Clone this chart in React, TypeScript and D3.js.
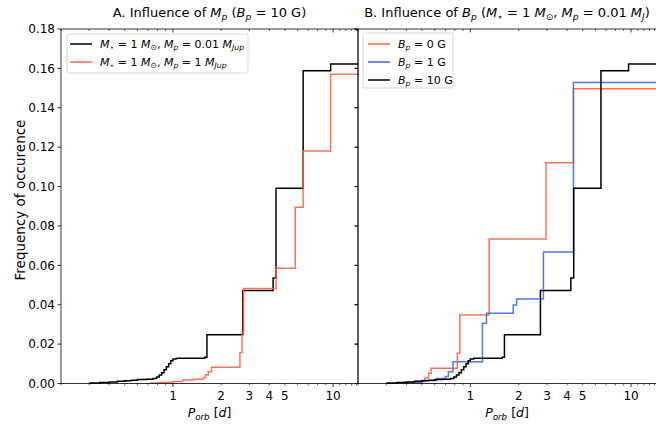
import React from "react";
import * as d3 from "d3";

type Pt = [number, number];

// Panel A / B black: M* = 1 Msun, Mp = 0.01 MJup, Bp = 10 G
const seriesMp001Bp10: Pt[] = [
  [0.3, 0.0002], [0.35, 0.0005], [0.4, 0.0008], [0.45, 0.0011], [0.5, 0.0014],
  [0.55, 0.0017], [0.6, 0.002], [0.68, 0.0022], [0.75, 0.0025], [0.79, 0.0033],
  [0.82, 0.0043], [0.85, 0.0055], [0.88, 0.007], [0.91, 0.0085], [0.94, 0.01],
  [0.97, 0.0115], [1.0, 0.0124], [1.05, 0.0128], [1.58, 0.0133], [1.63, 0.0248],
  [2.73, 0.0472], [4.22, 0.0536], [4.4, 0.0992], [6.5, 0.1588], [9.65, 0.1622],
];
// Panel A red: Mp = 1 MJup
const seriesMp1: Pt[] = [
  [0.72, 0.0002], [0.85, 0.0005], [1.0, 0.001], [1.15, 0.0018], [1.35, 0.0022],
  [1.55, 0.003], [1.6, 0.0045], [1.66, 0.006], [1.74, 0.0082], [2.62, 0.0158],
  [2.7, 0.026], [2.76, 0.0483], [4.4, 0.0585], [5.8, 0.0895], [6.5, 0.118], [9.65, 0.157],
];
// Panel B red: Bp = 0 G
const seriesBp0: Pt[] = [
  [0.4, 0.0005], [0.45, 0.001], [0.52, 0.0028], [0.55, 0.0052], [0.57, 0.0077],
  [0.83, 0.0153], [0.86, 0.0348], [1.31, 0.0734], [2.96, 0.1121], [4.38, 0.1496],
];
// Panel B blue: Bp = 1 G
const seriesBp1: Pt[] = [
  [0.38, 0.0005], [0.5, 0.0015], [0.62, 0.0025], [0.7, 0.0035], [0.73, 0.006],
  [0.78, 0.0111], [1.19, 0.0306], [1.26, 0.0357], [1.85, 0.0399], [1.94, 0.0429],
  [2.85, 0.0668], [4.38, 0.1528],
];

const xDomain: [number, number] = [0.2, 14.3];
const yTicks = [0, 0.02, 0.04, 0.06, 0.08, 0.1, 0.12, 0.14, 0.16, 0.18];
const xLabeled = [1, 2, 3, 4, 5, 10];
const xMajor = [1, 10];
const xMinor = [0.2, 0.3, 0.4, 0.5, 0.6, 0.7, 0.8, 0.9, 2, 3, 4, 5, 6, 7, 8, 9, 11, 12, 13, 14];

const RED = "#ff6347";
const BLUE = "#4169e1";
const BLACK = "#000000";
const FONT = "DejaVu Sans, sans-serif";

type Seg = { t: string; i?: boolean; s?: boolean };

function Rich(props: { segs: Seg[]; x: number; y: number; size: number; anchor?: string }) {
  const { segs, x, y, size, anchor } = props;
  let cur = 0;
  const shift = size * 0.22;
  return (
    <text x={x} y={y} fontSize={size} fontFamily={FONT} textAnchor={anchor || "start"} fill="#000">
      {segs.map((sg, k) => {
        const target = sg.s ? shift : 0;
        const dy = target - cur;
        cur = target;
        return (
          <tspan key={k} dy={dy} fontStyle={sg.i ? "italic" : "normal"} fontSize={sg.s ? size * 0.7 : size}>
            {sg.t}
          </tspan>
        );
      })}
    </text>
  );
}

const TOP = 29;
const BOTTOM = 383.5;

function Panel(props: {
  x0: number; x1: number; series: { data: Pt[]; color: string; op: number }[];
  showYLabels: boolean; rightSpine: boolean;
}) {
  const { x0, x1, series, showYLabels, rightSpine } = props;
  const x = d3.scaleLog().domain(xDomain).range([x0, x1]);
  const y = d3.scaleLinear().domain([0, 0.18]).range([BOTTOM, TOP]);
  const line = d3.line<Pt>().x((d) => x(d[0])).y((d) => y(d[1])).curve(d3.curveStepAfter);
  const ext = (d: Pt[]): Pt[] => [...d, [xDomain[1], d[d.length - 1][1]]];
  return (
    <g>
      <defs>
        <clipPath id={`clip${x0}`}>
          <rect x={x0} y={TOP - 2} width={x1 - x0} height={BOTTOM - TOP + 4} />
        </clipPath>
      </defs>
      <g clipPath={`url(#clip${x0})`}>
        {series.map((s, k) => (
          <path key={k} d={line(ext(s.data)) || ""} fill="none" stroke={s.color} strokeOpacity={s.op} strokeWidth={1.5} />
        ))}
      </g>
      <line x1={x0} x2={x0} y1={TOP} y2={BOTTOM} stroke="#000" strokeWidth={0.8} />
      {rightSpine && <line x1={x1} x2={x1} y1={TOP} y2={BOTTOM} stroke="#000" strokeWidth={0.8} />}
      <line x1={x0} x2={x1} y1={TOP} y2={TOP} stroke="#000" strokeWidth={0.8} />
      <line x1={x0} x2={x1} y1={BOTTOM} y2={BOTTOM} stroke="#000" strokeWidth={0.8} />
      {yTicks.map((t) => (
        <g key={t}>
          <line x1={x0 - 3.5} x2={x0} y1={y(t)} y2={y(t)} stroke="#000" strokeWidth={0.8} />
          {rightSpine && <line x1={x1 - 3.5} x2={x1} y1={y(t)} y2={y(t)} stroke="#000" strokeWidth={0.8} />}
          {showYLabels && (
            <text x={x0 - 6} y={y(t) + 4.3} fontSize={12} fontFamily={FONT} textAnchor="end" fill="#000">
              {t.toFixed(2)}
            </text>
          )}
        </g>
      ))}
      {xMajor.map((t) => (
        <g key={`M${t}`}>
          <line x1={x(t)} x2={x(t)} y1={BOTTOM} y2={BOTTOM + 3.5} stroke="#000" strokeWidth={0.8} />
          <line x1={x(t)} x2={x(t)} y1={TOP} y2={TOP + 3.5} stroke="#000" strokeWidth={0.8} />
        </g>
      ))}
      {xMinor.map((t) => (
        <g key={`m${t}`}>
          <line x1={x(t)} x2={x(t)} y1={BOTTOM} y2={BOTTOM + 2} stroke="#000" strokeWidth={0.6} />
          <line x1={x(t)} x2={x(t)} y1={TOP} y2={TOP + 2} stroke="#000" strokeWidth={0.6} />
        </g>
      ))}
      {xLabeled.map((t) => (
        <text key={`l${t}`} x={x(t)} y={399.5} fontSize={12} fontFamily={FONT} textAnchor="middle" fill="#000">
          {String(t)}
        </text>
      ))}
      <Rich
        x={(x0 + x1) / 2}
        y={417}
        size={12.5}
        anchor="middle"
        segs={[{ t: "P", i: true }, { t: "orb", i: true, s: true }, { t: " [" }, { t: "d", i: true }, { t: "]" }]}
      />
    </g>
  );
}

function LegendRow(props: { x: number; y: number; color: string; segs: Seg[] }) {
  const { x, y, color, segs } = props;
  return (
    <g>
      <line x1={x} x2={x + 22} y1={y} y2={y} stroke={color} strokeWidth={1.5} />
      <Rich x={x + 30} y={y + 4} size={11} segs={segs} />
    </g>
  );
}

export default function App() {
  const W = 656;
  const H = 427;
  return (
    <svg width={W} height={H} style={{ position: "absolute", left: 0, top: 0, background: "#fff" }}>
      <rect width={W} height={H} fill="#fff" />
      <Panel
        x0={61}
        x1={358}
        showYLabels={true}
        rightSpine={true}
        series={[
          { data: seriesMp001Bp10, color: BLACK, op: 1 },
          { data: seriesMp1, color: RED, op: 0.9 },
        ]}
      />
      <Panel
        x0={358}
        x1={656}
        showYLabels={false}
        rightSpine={false}
        series={[
          { data: seriesBp0, color: RED, op: 0.9 },
          { data: seriesBp1, color: BLUE, op: 0.9 },
          { data: seriesMp001Bp10, color: BLACK, op: 1 },
        ]}
      />
      <text
        transform="translate(25,200) rotate(-90)"
        fontSize={13.5}
        fontFamily={FONT}
        textAnchor="middle"
        fill="#000"
      >
        Frequency of occurence
      </text>
      <Rich
        x={209.5}
        y={17}
        size={13}
        anchor="middle"
        segs={[
          { t: "A. Influence of " }, { t: "M", i: true }, { t: "p", i: true, s: true },
          { t: " (" }, { t: "B", i: true }, { t: "p", i: true, s: true }, { t: " = 10 G)" },
        ]}
      />
      <Rich
        x={507}
        y={17}
        size={13}
        anchor="middle"
        segs={[
          { t: "B. Influence of " }, { t: "B", i: true }, { t: "p", i: true, s: true },
          { t: " (" }, { t: "M", i: true }, { t: "⋆", s: true }, { t: " = 1 " },
          { t: "M", i: true }, { t: "⊙", s: true }, { t: ",  " }, { t: "M", i: true },
          { t: "p", i: true, s: true }, { t: " = 0.01 " }, { t: "M", i: true }, { t: "J", i: true, s: true }, { t: ")" },
        ]}
      />
      <rect x={67} y={34} width={181} height={39} rx={2.5} fill="#fff" fillOpacity={0.8} stroke="#cccccc" strokeWidth={0.8} />
      <LegendRow
        x={70}
        y={44}
        color={BLACK}
        segs={[
          { t: "M", i: true }, { t: "⋆", s: true }, { t: " = 1 " }, { t: "M", i: true }, { t: "⊙", s: true },
          { t: ",  " }, { t: "M", i: true }, { t: "p", i: true, s: true }, { t: " = 0.01 " },
          { t: "M", i: true }, { t: "Jup", i: true, s: true },
        ]}
      />
      <LegendRow
        x={70}
        y={62}
        color={RED}
        segs={[
          { t: "M", i: true }, { t: "⋆", s: true }, { t: " = 1 " }, { t: "M", i: true }, { t: "⊙", s: true },
          { t: ",  " }, { t: "M", i: true }, { t: "p", i: true, s: true }, { t: " = 1 " },
          { t: "M", i: true }, { t: "Jup", i: true, s: true },
        ]}
      />
      <rect x={363} y={33} width={90} height={55} rx={2.5} fill="#fff" fillOpacity={0.8} stroke="#cccccc" strokeWidth={0.8} />
      <LegendRow x={368} y={44} color={RED} segs={[{ t: "B", i: true }, { t: "p", i: true, s: true }, { t: " = 0 G" }]} />
      <LegendRow x={368} y={62} color={BLUE} segs={[{ t: "B", i: true }, { t: "p", i: true, s: true }, { t: " = 1 G" }]} />
      <LegendRow x={368} y={80} color={BLACK} segs={[{ t: "B", i: true }, { t: "p", i: true, s: true }, { t: " = 10 G" }]} />
    </svg>
  );
}
